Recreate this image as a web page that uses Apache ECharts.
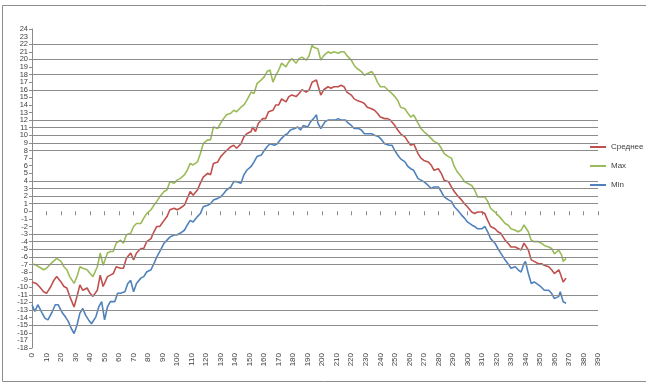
<!DOCTYPE html>
<html>
<head>
<meta charset="utf-8">
<script src="https://cdn.jsdelivr.net/npm/echarts@6/dist/echarts.min.js"></script>
<style>
html,body{margin:0;padding:0;background:#fff;}
#chart{width:646px;height:388px;}
</style>
</head>
<body>
<div id="chart"></div>
<script>
// Horizontal gridline values (as drawn in the reference)
var gridValues = [22, 20, 18, 16, 12, 11, 10, 9, 8, 4, 3, 2, 1, -3, -4, -5, -6, -7, -11, -13, -15];
var yMin = -18, yMax = 24;

var seriesNames = ['Среднее', 'Max', 'Min'];

var meanDays = [0,3,5,8,10,13,15,17,20,22,24,26,29,31,33,35,38,40,42,45,47,49,52,54,56,58,61,63,65,68,70,72,75,77,79,82,84,86,88,91,93,95,98,100,102,105,107,109,111,114,116,118,121,123,125,128,130,132,134,137,139,141,144,146,148,151,152,154,156,159,161,163,166,168,170,172,175,177,179,182,184,186,189,191,193,196,197,199,201,204,206,208,211,213,215,217,220,222,224,227,229,231,234,236,238,240,243,245,247,250,252,254,257,259,261,263,266,268,270,273,275,277,280,282,284,287,289,291,293,296,298,300,303,305,307,310,312,314,316,319,321,323,326,328,330,333,335,337,339,340,342,344,346,349,351,353,356,358,360,363,364,366,368];
var meanVals = [-9.3,-9.5,-9.9,-10.6,-10.8,-9.9,-9.1,-8.6,-9.3,-9.9,-10.1,-11.2,-12.6,-11.2,-9.7,-10.4,-10.1,-10.8,-11.2,-10.4,-8.4,-9.9,-8.6,-8.4,-8.2,-7.3,-7.5,-7.5,-6.2,-5.5,-6.4,-5.5,-4.9,-4.9,-4.0,-3.6,-2.7,-2.0,-2.0,-1.2,-0.7,0.2,0.4,0.2,0.4,0.8,1.7,2.6,2.1,2.8,3.7,4.5,5.0,4.8,6.3,6.5,7.2,7.6,8.0,8.5,8.7,8.3,8.9,9.8,10.2,10.5,11.1,10.5,11.6,12.2,12.2,13.1,13.3,14.0,14.0,14.8,14.4,15.1,15.3,15.1,15.5,16.0,15.7,16.0,17.0,17.3,16.6,15.3,16.0,16.4,16.2,16.4,16.4,16.6,16.4,15.7,15.3,14.8,14.6,14.4,14.2,13.7,13.5,13.3,12.9,12.4,12.2,12.2,12.0,11.3,10.7,10.2,9.8,9.2,8.7,8.9,7.6,7.0,6.7,6.5,6.1,5.4,5.6,5.0,4.1,3.9,3.2,2.6,2.1,1.5,1.0,0.6,-0.1,-0.3,-0.1,-0.1,-0.3,-1.2,-2.0,-2.3,-2.7,-2.9,-3.8,-4.2,-4.7,-4.7,-4.9,-5.1,-4.2,-4.0,-5.1,-6.4,-6.6,-6.9,-6.9,-7.1,-7.3,-7.7,-8.2,-7.7,-8.2,-9.3,-8.8];

var maxDays = [0,3,8,10,13,17,20,22,24,26,29,31,33,35,38,40,42,45,47,49,52,54,56,58,61,63,65,68,70,72,75,77,79,82,84,86,88,91,93,95,98,100,102,105,107,109,111,114,116,118,121,123,125,128,130,132,134,137,139,141,144,146,148,151,153,155,158,160,162,164,166,168,170,172,175,177,179,182,184,186,189,191,193,194,197,199,201,204,206,208,211,213,215,217,220,222,224,227,229,231,234,236,238,240,243,245,247,250,252,254,257,259,261,263,266,268,270,273,275,277,280,282,284,287,289,291,293,296,298,300,303,305,307,310,312,314,316,319,321,323,326,328,330,333,335,337,339,340,342,344,346,349,351,353,356,358,360,363,365,366,368];
var maxVals = [-6.9,-7.1,-7.7,-7.5,-6.9,-6.2,-6.6,-7.3,-7.7,-8.6,-9.5,-8.6,-7.3,-7.5,-7.7,-8.2,-8.6,-7.3,-5.5,-7.1,-5.5,-5.3,-5.3,-4.2,-3.8,-4.2,-3.1,-2.9,-2.0,-1.6,-1.6,-0.9,-0.3,0.2,0.8,1.3,1.9,2.6,2.8,3.9,3.7,4.1,4.3,4.8,5.4,6.3,6.1,6.5,7.6,8.9,9.4,9.4,11.1,10.9,11.6,12.2,12.7,12.9,13.3,13.1,13.7,14.0,14.6,15.7,15.5,16.8,17.3,17.7,18.4,18.6,17.0,17.9,18.6,19.5,19.0,19.7,20.1,19.5,20.1,20.3,19.9,20.5,21.9,21.6,21.4,19.9,20.5,21.0,20.8,21.0,20.8,21.0,21.0,20.5,19.9,19.2,18.8,18.4,17.9,18.1,18.4,17.9,17.0,16.4,16.4,16.0,15.7,15.1,14.6,13.7,13.5,12.9,12.4,12.7,11.6,10.9,10.5,10.0,9.6,9.2,8.9,8.3,7.6,7.2,7.0,5.9,5.2,4.5,3.9,3.7,3.4,2.8,1.9,1.9,1.9,1.3,0.4,-0.1,-0.5,-0.9,-1.6,-1.8,-2.3,-2.5,-2.7,-2.5,-1.8,-1.6,-2.7,-3.8,-4.0,-4.0,-4.2,-4.5,-4.7,-4.9,-5.6,-5.1,-5.8,-6.6,-6.2];

var minDays = [0,2,4,7,9,11,14,16,18,21,23,25,27,29,31,33,35,37,39,41,44,46,48,50,52,54,57,59,61,64,66,68,70,72,75,77,79,82,84,86,88,91,93,95,98,100,102,105,107,109,111,114,116,118,121,123,125,128,130,132,134,137,139,141,144,146,148,151,153,155,158,160,162,164,167,169,171,174,176,178,181,183,185,187,190,192,194,196,197,199,202,204,206,209,211,213,216,218,220,222,225,227,229,232,234,236,239,241,243,246,248,250,252,254,257,259,261,263,266,268,270,273,275,277,280,282,284,287,289,291,293,296,298,300,303,305,307,310,312,314,316,319,321,323,326,328,330,333,335,337,339,340,342,344,346,349,351,353,356,358,360,363,364,366,368];
var minVals = [-12.3,-13.2,-12.3,-13.4,-14.1,-14.3,-13.2,-12.3,-12.3,-13.4,-13.9,-14.5,-15.4,-16.1,-15.0,-13.4,-12.8,-13.7,-14.3,-14.8,-13.9,-12.6,-11.9,-14.3,-12.6,-11.9,-11.9,-10.8,-10.8,-10.6,-9.5,-9.1,-10.6,-9.5,-8.8,-8.6,-8.0,-7.7,-6.9,-6.0,-5.3,-4.2,-3.8,-3.4,-3.1,-3.1,-2.9,-2.5,-1.8,-1.2,-1.4,-0.7,-0.3,0.6,0.8,1.0,1.5,1.7,1.9,2.3,2.8,3.2,3.9,3.9,3.7,4.8,5.4,5.9,6.5,7.2,7.4,8.0,8.5,8.9,8.7,8.9,9.4,10.0,10.2,10.7,10.9,11.1,10.7,11.3,11.1,11.8,12.2,12.7,11.6,10.9,11.8,12.0,12.0,12.0,12.2,12.0,12.0,11.6,11.3,10.9,10.9,10.7,10.2,10.2,10.2,10.0,9.8,9.4,8.9,8.7,8.7,8.0,7.4,6.9,6.5,5.9,5.6,5.4,4.3,4.1,3.9,3.4,3.0,3.2,3.2,2.6,1.9,1.5,1.3,0.6,0.2,-0.5,-0.9,-1.4,-1.8,-2.0,-2.3,-2.3,-2.0,-2.7,-3.6,-4.2,-4.9,-5.5,-6.4,-6.9,-7.5,-7.3,-7.7,-8.0,-6.9,-6.6,-8.2,-9.5,-9.3,-9.7,-10.0,-10.4,-10.4,-10.8,-11.5,-11.2,-10.6,-11.9,-12.1];

function pairs(xs, ys) { return xs.map(function (x, i) { return [x, ys[i]]; }); }

var chart = echarts.init(document.getElementById('chart'), null, { renderer: 'canvas' });
var FONT = 'Liberation Sans, Arial, sans-serif';
var yLabelStyle = { fontSize: 7.5, lineHeight: 6, color: '#404040', margin: 4, fontFamily: FONT, hideOverlap: false };

chart.setOption({
  animation: false,
  backgroundColor: '#ffffff',
  textStyle: { fontFamily: FONT },
  graphic: [{
    type: 'rect', silent: true, z: -10,
    shape: { x: 2.5, y: 5.5, width: 700, height: 376 },
    style: { fill: 'none', stroke: '#8c8c8c', lineWidth: 1 }
  }],
  grid: { left: 32, right: 48, top: 29, bottom: 40, containLabel: false },
  legend: {
    orient: 'vertical', left: 590, top: 143,
    icon: 'rect', itemWidth: 16, itemHeight: 2, itemGap: 11,
    padding: 0,
    data: seriesNames,
    textStyle: { fontSize: 8, color: '#404040', fontFamily: FONT }
  },
  xAxis: [{
    type: 'value', min: 0, max: 390, interval: 10, position: 'bottom',
    axisLine: { show: false, onZero: false },
    axisTick: { show: false },
    splitLine: { show: false },
    axisLabel: { rotate: 90, fontSize: 8, color: '#404040', margin: 5, fontFamily: FONT, showMinLabel: true, showMaxLabel: true }
  }, {
    type: 'value', min: 0, max: 390, interval: 10, position: 'top',
    axisLine: { show: false, onZero: true },
    axisTick: { show: true, inside: true, length: 4, lineStyle: { color: '#8c8c8c', width: 1 } },
    axisLabel: { show: false },
    splitLine: { show: false }
  }],
  yAxis: [{
    type: 'value', min: yMin, max: yMax, interval: 1, position: 'left',
    axisLine: { show: true, onZero: false, lineStyle: { color: '#8c8c8c', width: 1 } },
    axisTick: { show: true, length: 3, lineStyle: { color: '#8c8c8c' } },
    splitLine: { show: false },
    axisLabel: Object.assign({ showMinLabel: true, showMaxLabel: true }, yLabelStyle)
  }, {
    // second label pass: labels next to the extremes that the first pass drops
    type: 'value', min: yMin, max: yMax, interval: 1, position: 'left', offset: 0,
    axisLine: { show: false, onZero: false },
    axisTick: { show: false },
    splitLine: { show: false },
    axisLabel: Object.assign({
      showMinLabel: true, showMaxLabel: true,
      formatter: function (v) { return (v === yMax - 1 || v === yMin + 1) ? String(v) : ''; }
    }, yLabelStyle)
  }],
  series: [{
    name: '_grid', type: 'line', data: [], z: 1, silent: true,
    markLine: {
      silent: true, symbol: 'none', animation: false,
      label: { show: false },
      lineStyle: { color: '#8c8c8c', width: 1, type: 'solid' },
      data: gridValues.map(function (v) { return { yAxis: v }; })
    }
  }, {
    name: seriesNames[0], type: 'line', z: 3, showSymbol: false, symbol: 'none',
    data: pairs(meanDays, meanVals),
    lineStyle: { color: '#C0504D', width: 1.6 }, itemStyle: { color: '#C0504D' }
  }, {
    name: seriesNames[1], type: 'line', z: 3, showSymbol: false, symbol: 'none',
    data: pairs(maxDays, maxVals),
    lineStyle: { color: '#9BBB59', width: 1.6 }, itemStyle: { color: '#9BBB59' }
  }, {
    name: seriesNames[2], type: 'line', z: 3, showSymbol: false, symbol: 'none',
    data: pairs(minDays, minVals),
    lineStyle: { color: '#4F81BD', width: 1.6 }, itemStyle: { color: '#4F81BD' }
  }]
});
</script>
</body>
</html>
